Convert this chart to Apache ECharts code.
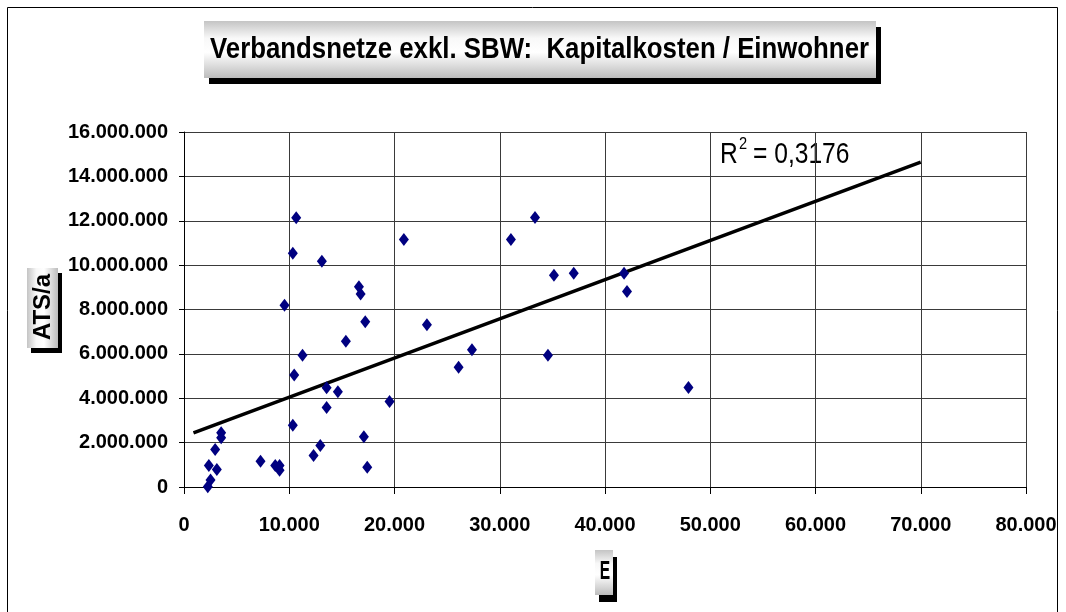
<!DOCTYPE html>
<html>
<head>
<meta charset="utf-8">
<script src="https://cdn.jsdelivr.net/npm/echarts@6/dist/echarts.min.js"></script>
<style>
  html, body { margin: 0; padding: 0; background: #ffffff; }
  #chart { width: 1066px; height: 612px; }
</style>
</head>
<body>
<div id="chart"></div>
<script>
// Einwohner (E) per network
const einwohner = [
  2260, 2520, 2360, 3120, 2960, 3530, 3530, 7270, 8670, 9080,
  9080, 10340, 12310, 12950, 13550, 13550, 14620, 17090, 17410, 19530,
  10470, 11260, 15380, 17220, 9550, 16780, 16620, 13100, 10340, 10660,
  20890, 23080, 26090, 27360, 31060, 33350, 35150, 37030, 41810, 42090,
  34580, 47930
];
// Kapitalkosten (ATS/a) per network
const kapitalkosten = [
  10000, 310000, 970000, 790000, 1690000, 2440000, 2220000, 1160000, 970000, 970000,
  760000, 2780000, 1420000, 1870000, 4470000, 3580000, 4290000, 2260000, 890000, 3850000,
  5050000, 5940000, 6570000, 7450000, 8190000, 8700000, 9030000, 10170000, 10530000, 12140000,
  11150000, 7310000, 5400000, 6190000, 11150000, 12150000, 9540000, 9630000, 9630000, 8810000,
  5940000, 4480000
];
// linear trend line end points
const trendX = [900, 70000];
const trendY = [2440000, 14640000];
const rSquared = '0,3176';

const xTickLabels = ['0', '10.000', '20.000', '30.000', '40.000', '50.000', '60.000', '70.000', '80.000'];
const yTickLabels = ['0', '2.000.000', '4.000.000', '6.000.000', '8.000.000', '10.000.000', '12.000.000', '14.000.000', '16.000.000'];

const titleText = 'Verbandsnetze exkl. SBW:  Kapitalkosten / Einwohner';
const yName = 'ATS/a';
const xName = 'E';

const FONT = "'Liberation Sans', Arial, sans-serif";

const boxGradV = {
  type: 'linear', x: 0, y: 0, x2: 0, y2: 1,
  colorStops: [
    { offset: 0, color: '#c4c4c4' },
    { offset: 0.3, color: '#f8f8f8' },
    { offset: 0.55, color: '#ffffff' },
    { offset: 1, color: '#bcbcbc' }
  ]
};
const boxGradH = {
  type: 'linear', x: 0, y: 0, x2: 1, y2: 0,
  colorStops: [
    { offset: 0, color: '#c4c4c4' },
    { offset: 0.3, color: '#f8f8f8' },
    { offset: 0.55, color: '#ffffff' },
    { offset: 1, color: '#bcbcbc' }
  ]
};

const chart = echarts.init(document.getElementById('chart'), null, { renderer: 'canvas' });

const option = {
  backgroundColor: '#ffffff',
  animation: false,
  grid: { left: 184, right: 40, top: 132, bottom: 125, containLabel: false },
  xAxis: {
    type: 'value', min: 0, max: 80000, interval: 10000,
    axisLine: { show: true, onZero: false, lineStyle: { color: '#000000', width: 1 } },
    axisTick: { show: true, inside: false, length: 7, lineStyle: { color: '#000000' } },
    splitLine: { show: true, lineStyle: { color: '#3a3a3a', width: 1 } },
    axisLabel: {
      margin: 28, fontFamily: FONT, fontSize: 20, fontWeight: 'bold', color: '#000000',
      formatter: (v) => xTickLabels[Math.round(v / 10000)]
    }
  },
  yAxis: {
    type: 'value', min: 0, max: 16000000, interval: 2000000,
    axisLine: { show: true, onZero: false, lineStyle: { color: '#000000', width: 1 } },
    axisTick: { show: true, inside: false, length: 5, lineStyle: { color: '#000000' } },
    splitLine: { show: true, lineStyle: { color: '#3a3a3a', width: 1 } },
    axisLabel: {
      margin: 16, fontFamily: FONT, fontSize: 20, fontWeight: 'bold', color: '#000000',
      formatter: (v) => yTickLabels[Math.round(v / 2000000)]
    }
  },
  series: [
    {
      type: 'line',
      data: trendX.map((x, i) => [x, trendY[i]]),
      showSymbol: false,
      symbol: 'none',
      lineStyle: { color: '#000000', width: 3.5 },
      z: 3
    },
    {
      type: 'scatter',
      data: einwohner.map((x, i) => [x, kapitalkosten[i]]),
      symbol: 'diamond',
      symbolSize: [10, 13],
      itemStyle: { color: '#000080', opacity: 1 },
      z: 4
    }
  ],
  graphic: [
    // outer frame
    {
      type: 'rect', silent: true,
      shape: { x: 7.5, y: 7.5, width: 1050, height: 640 },
      style: { fill: 'none', stroke: '#000000', lineWidth: 1 }
    },
    // title box with drop shadow
    {
      type: 'rect', silent: true,
      shape: { x: 209, y: 27, width: 672, height: 57 },
      style: { fill: '#000000' }
    },
    {
      type: 'rect', silent: true,
      shape: { x: 204, y: 21, width: 672, height: 57 },
      style: { fill: boxGradV }
    },
    {
      type: 'text', silent: true,
      x: 210, y: 50, scaleX: 0.86,
      style: {
        text: titleText, fontFamily: FONT, fontSize: 30, fontWeight: 'bold',
        fill: '#000000', align: 'left', verticalAlign: 'middle'
      }
    },
    // y axis name box
    {
      type: 'rect', silent: true,
      shape: { x: 31, y: 273, width: 31, height: 80 },
      style: { fill: '#000000' }
    },
    {
      type: 'rect', silent: true,
      shape: { x: 27, y: 268, width: 31, height: 80 },
      style: { fill: boxGradH }
    },
    {
      type: 'text', silent: true,
      x: 43, y: 307, rotation: Math.PI / 2,
      style: {
        text: yName, fontFamily: FONT, fontSize: 24, fontWeight: 'bold',
        fill: '#000000', align: 'center', verticalAlign: 'middle'
      }
    },
    // x axis name box
    {
      type: 'rect', silent: true,
      shape: { x: 599, y: 557, width: 18, height: 45 },
      style: { fill: '#000000' }
    },
    {
      type: 'rect', silent: true,
      shape: { x: 595, y: 550, width: 18, height: 45 },
      style: { fill: boxGradV }
    },
    {
      type: 'text', silent: true,
      x: 605, y: 572, scaleX: 0.6,
      style: {
        text: xName, fontFamily: FONT, fontSize: 26, fontWeight: 'bold',
        fill: '#000000', align: 'center', verticalAlign: 'middle'
      }
    },
    // coefficient of determination
    {
      type: 'text', silent: true,
      x: 720, y: 155, scaleX: 0.82,
      style: {
        text: 'R', fontFamily: FONT, fontSize: 30, fill: '#000000',
        align: 'left', verticalAlign: 'middle'
      }
    },
    {
      type: 'text', silent: true,
      x: 739, y: 144, scaleX: 0.86,
      style: {
        text: '2', fontFamily: FONT, fontSize: 17, fill: '#000000',
        align: 'left', verticalAlign: 'middle'
      }
    },
    {
      type: 'text', silent: true,
      x: 753, y: 155, scaleX: 0.82,
      style: {
        text: '= ' + rSquared, fontFamily: FONT, fontSize: 30, fill: '#000000',
        align: 'left', verticalAlign: 'middle'
      }
    }
  ]
};

chart.setOption(option);
</script>
</body>
</html>
